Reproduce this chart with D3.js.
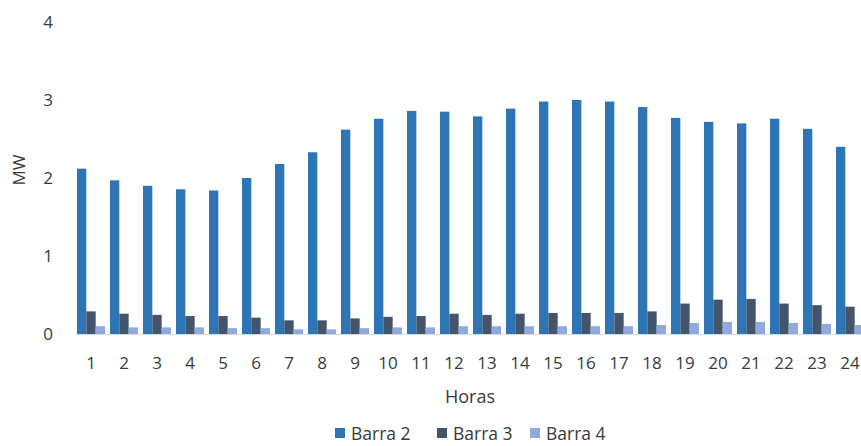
<!DOCTYPE html>
<html><head><meta charset="utf-8">
<script src="https://cdn.jsdelivr.net/npm/d3@7"></script>
<style>body{margin:0;background:#fff;} text{font-family:"Open Sans",sans-serif;fill:#3a3a3a;}</style>
</head><body>
<svg id="c" width="861" height="446"></svg>
<script>
const horas = ["1","2","3","4","5","6","7","8","9","10","11","12","13","14","15","16","17","18","19","20","21","22","23","24"];
const barra2 = [2.12,1.97,1.90,1.855,1.84,2.00,2.18,2.33,2.62,2.76,2.86,2.85,2.79,2.89,2.98,3.00,2.98,2.91,2.77,2.72,2.70,2.76,2.63,2.40];
const barra3 = [0.29,0.26,0.245,0.23,0.23,0.21,0.175,0.175,0.20,0.22,0.23,0.26,0.245,0.26,0.27,0.27,0.27,0.29,0.39,0.44,0.45,0.39,0.37,0.35];
const barra4 = [0.10,0.085,0.085,0.085,0.075,0.075,0.06,0.06,0.075,0.085,0.085,0.10,0.10,0.10,0.10,0.10,0.10,0.115,0.14,0.155,0.155,0.14,0.13,0.115];
const seriesNames = ["Barra 2","Barra 3","Barra 4"];
const colors = ["#2e75b6","#44546a","#8faadc"];
const yTicks = [0,1,2,3,4];
const seriesVals = [barra2, barra3, barra4];

const svg = d3.select("#c");
const x = d3.scaleBand().domain(horas).range([74.5, 866.5]).paddingInner(0.15).paddingOuter(0.075);
const xs = d3.scaleBand().domain(seriesNames).range([0, x.bandwidth()]);
const y = d3.scaleLinear().domain([0,4]).range([334, 22]);

// bars
seriesNames.forEach((s, si) => {
  svg.append("g").selectAll("rect").data(horas).join("rect")
    .attr("x", d => x(d) + xs(s))
    .attr("width", xs.bandwidth())
    .attr("y", (d,i) => y(seriesVals[si][i]))
    .attr("height", (d,i) => y(0) - y(seriesVals[si][i]))
    .attr("fill", colors[si]);
});

// x axis line
svg.append("line").attr("x1", 75).attr("x2", 861).attr("y1", y(0)+0.5).attr("y2", y(0)+0.5)
  .attr("stroke", "#d9d9d9").attr("stroke-width", 1);

// x labels
svg.append("g").selectAll("text").data(horas).join("text")
  .attr("x", d => x(d) + x.bandwidth()/2)
  .attr("y", 369)
  .attr("text-anchor", "middle")
  .style("font-size", "17px")
  .text(d => d);

// y labels
svg.append("g").selectAll("text").data(yTicks).join("text")
  .attr("x", 48)
  .attr("y", d => y(d) + 6)
  .attr("text-anchor", "middle")
  .style("font-size", "17px")
  .text(d => d);

// axis titles
svg.append("text").attr("x", 470).attr("y", 403).attr("text-anchor", "middle")
  .style("font-size", "18px").text("Horas");
svg.append("text").attr("transform", "translate(25,170) rotate(-90)").attr("text-anchor", "middle")
  .style("font-size", "17px").text("MW");

// legend
const legX = [335, 437, 530];
seriesNames.forEach((s, i) => {
  svg.append("rect").attr("x", legX[i]).attr("y", 428).attr("width", 10).attr("height", 10).attr("fill", colors[i]);
  svg.append("text").attr("x", legX[i] + 16).attr("y", 440).style("font-size", "17.5px").text(s);
});
</script>
</body></html>
